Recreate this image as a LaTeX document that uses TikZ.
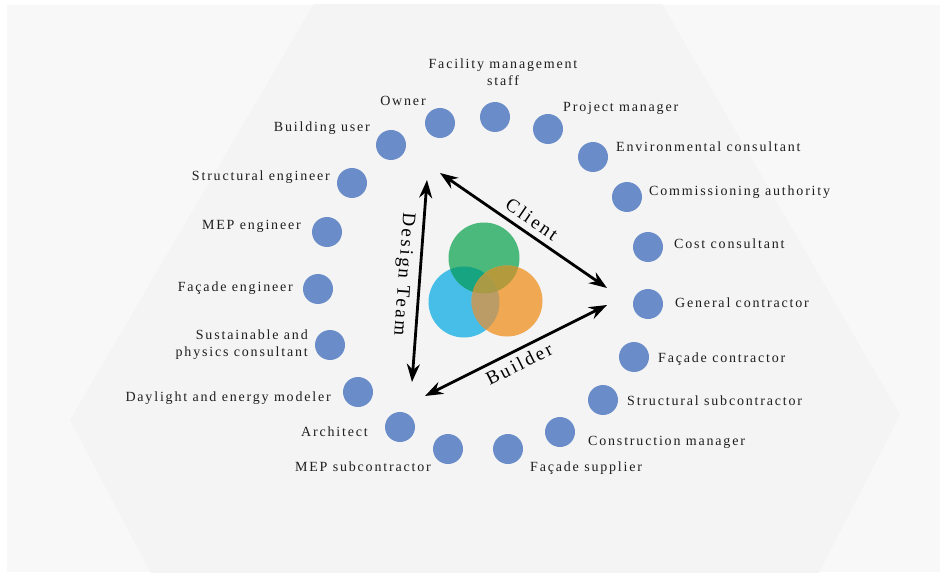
\documentclass[tikz,border=0pt]{standalone}
\usepackage{fontspec}
\setmainfont{Liberation Serif}
\newfontfamily\lblfont[LetterSpace=13]{Liberation Serif}
\usetikzlibrary{arrows.meta}
\definecolor{dotblue}{HTML}{6A8CC8}
\definecolor{txtcol}{HTML}{1E1E1E}
\definecolor{framebg}{HTML}{F8F8F8}
\definecolor{hexbg}{HTML}{F4F4F4}
\definecolor{vgreen}{HTML}{4CB97C}
\definecolor{vblue}{HTML}{46BEE8}
\definecolor{vorange}{HTML}{F0A853}
\definecolor{vbg}{HTML}{16A481}
\definecolor{vgo}{HTML}{B39B3D}
\definecolor{vbo}{HTML}{BB9B66}
\definecolor{vall}{HTML}{A99A45}
\begin{document}
\begin{tikzpicture}[x=1pt,y=-1pt,
  dot/.style={circle,fill=dotblue,minimum size=30pt,inner sep=0pt},
  lbl/.style={font=\lblfont\fontsize{14}{17.5}\selectfont,text=txtcol,inner sep=0pt,text height=9.5pt,text depth=3pt},
  mlbl/.style={font=\lblfont\fontsize{14}{17.5}\selectfont,text=txtcol,inner sep=0pt},
  biglbl/.style={font=\lblfont\fontsize{19}{22}\selectfont,text=black,inner sep=0pt},
  rel/.style={line width=2.8pt,{Stealth[length=18pt,width=13pt]}-{Stealth[length=18pt,width=13pt]}}]
\useasboundingbox (0,0) rectangle (944,577);
% background
\fill[white] (0,0) rectangle (944,577);
\fill[framebg] (7,5) rectangle (940,572);
\begin{scope}
\clip (7,5) rectangle (940,572);
\fill[hexbg] (322,-10) -- (654,-10) -- (900,415) -- (810,590) -- (160,590) -- (70,420) -- cycle;
\end{scope}
% Venn
\coordinate (cg) at (484,258);
\coordinate (cb) at (464,302);
\coordinate (co) at (507,301);
\fill[vblue] (cb) circle (35.5);
\fill[vgreen] (cg) circle (35.5);
\fill[vorange] (co) circle (35.5);
\begin{scope}\clip (cb) circle (35.5); \fill[vbg] (cg) circle (35.5);\end{scope}
\begin{scope}\clip (co) circle (35.5); \fill[vgo] (cg) circle (35.5);\end{scope}
\begin{scope}\clip (co) circle (35.5); \fill[vbo] (cb) circle (35.5);\end{scope}
\begin{scope}\clip (co) circle (35.5); \clip (cb) circle (35.5); \fill[vall] (cg) circle (35.5);\end{scope}
% triangle arrows
\coordinate (ct) at (440,173);
\coordinate (cr) at (607,288);
\coordinate (br) at (607,305);
\coordinate (bl) at (425,396);
\coordinate (dt) at (427,180);
\coordinate (db) at (412,382);
\draw[rel] (ct) -- (cr);
\draw[rel] (br) -- (bl);
\draw[rel] (dt) -- (db);
\node[biglbl,rotate=-34.6] (client) at (532,219) {Client};
\node[biglbl,rotate=26.6] (builder) at (519,364) {Builder};
\node[biglbl,rotate=-94.2] (design) at (403,274) {Design Team};
% dots
\node[dot] (owner) at (440,123) {};
\node[dot] (fms) at (495,117) {};
\node[dot] (pm) at (548,129) {};
\node[dot] (env) at (593,157) {};
\node[dot] (comm) at (627,197) {};
\node[dot] (cost) at (648,247) {};
\node[dot] (gc) at (648,304) {};
\node[dot] (fc) at (634,357) {};
\node[dot] (ss) at (603,400) {};
\node[dot] (cm) at (560,432) {};
\node[dot] (fs) at (508,449) {};
\node[dot] (mepsub) at (448,449) {};
\node[dot] (arch) at (400,427) {};
\node[dot] (day) at (358,392) {};
\node[dot] (sus) at (330,345) {};
\node[dot] (fe) at (318,289) {};
\node[dot] (mep) at (327,232) {};
\node[dot] (se) at (352,183) {};
\node[dot] (bu) at (391,145) {};
% labels
\node[lbl] (lowner) at (403,102) {Owner};
\node[mlbl,align=center] (lfms) at (503,72) {Facility management\\staff};
\node[lbl,anchor=west] (lpm) at (563,108) {Project manager};
\node[lbl,anchor=west] (lenv) at (616,148) {Environmental consultant};
\node[lbl,anchor=west] (lcomm) at (649,192) {Commissioning authority};
\node[lbl,anchor=west] (lcost) at (674,245) {Cost consultant};
\node[lbl,anchor=west] (lgc) at (675,304) {General contractor};
\node[lbl,anchor=west] (lfc) at (658,359) {Façade contractor};
\node[lbl,anchor=west] (lss) at (627,402) {Structural subcontractor};
\node[lbl,anchor=west] (lcm) at (588,442) {Construction manager};
\node[lbl,anchor=west] (lfs) at (530,468) {Façade supplier};
\node[lbl,anchor=east] (lmepsub) at (431,468) {MEP subcontractor};
\node[lbl,anchor=east] (larch) at (368,433) {Architect};
\node[lbl,anchor=east] (lday) at (331,398) {Daylight and energy modeler};
\node[mlbl,align=right,anchor=east] (lsus) at (308,344.5) {Sustainable and\\physics consultant};
\node[lbl,anchor=east] (lfe) at (293,288) {Façade engineer};
\node[lbl,anchor=east] (lmep) at (301,226) {MEP engineer};
\node[lbl,anchor=east] (lse) at (330,177) {Structural engineer};
\node[lbl,anchor=east] (lbu) at (370,128) {Building user};
\end{tikzpicture}
\end{document}
